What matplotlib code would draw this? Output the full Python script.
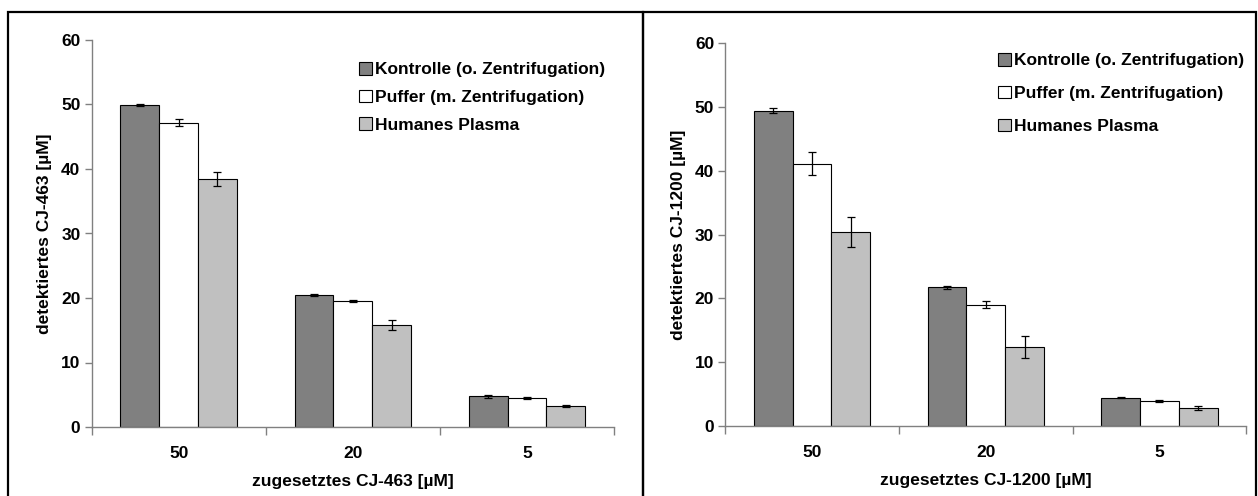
import matplotlib
matplotlib.use("Agg")
import matplotlib.pyplot as plt
from matplotlib.patches import Rectangle, Patch
import numpy as np

plt.rcParams['font.family'] = ['Liberation Sans', 'DejaVu Sans']
plt.rcParams['font.weight'] = 'bold'

# data
categories = ['50', '20', '5']
series = ['Kontrolle (o. Zentrifugation)', 'Puffer (m. Zentrifugation)', 'Humanes Plasma']
colors = ['#808080', '#ffffff', '#c0c0c0']

cj463_vals = [[49.9, 20.4, 4.75],
              [47.2, 19.5, 4.5],
              [38.5, 15.8, 3.25]]
cj463_err = [[0.1, 0.15, 0.25],
             [0.5, 0.15, 0.1],
             [1.1, 0.75, 0.2]]

cj1200_vals = [[49.4, 21.75, 4.45],
               [41.1, 19.0, 3.87],
               [30.4, 12.4, 2.8]]
cj1200_err = [[0.4, 0.2, 0.05],
              [1.8, 0.55, 0.15],
              [2.4, 1.7, 0.3]]

FS = 12.5

fig = plt.figure(figsize=(12.58, 4.96), dpi=100)

# black frames around each panel
for x0, x1 in [(8, 643), (643, 1256)]:
    fig.patches.append(Rectangle((x0 / 1258, -0.1), (x1 - x0) / 1258, 1.1 - 12 / 496,
                                 transform=fig.transFigure, fill=False,
                                 edgecolor='black', lw=1.6))


def panel(rect, vals, errs, ylabel, xlabel, leg_pos, leg_space):
    ax = fig.add_axes(rect)
    x = np.arange(len(categories))
    w = 0.223
    for i in range(len(series)):
        ax.bar(x + (i - 1) * w, vals[i], w, color=colors[i], edgecolor='black',
               lw=0.8, label=series[i], zorder=2)
        ax.errorbar(x + (i - 1) * w, vals[i], yerr=errs[i], fmt='none',
                    ecolor='black', elinewidth=0.9, capsize=2.6, capthick=0.9, zorder=3)
    ax.set_xlim(-0.5, 2.5)
    ax.set_ylim(0, 60)
    ax.set_yticks(range(0, 61, 10))
    ax.set_xticks(x)
    ax.set_xticklabels(categories)
    ax.set_xticks([-0.5, 0.5, 1.5, 2.5], minor=True)
    ax.tick_params(axis='x', which='major', length=0, pad=14, labelsize=FS)
    ax.tick_params(axis='x', which='minor', length=6, color='#808080', width=1)
    ax.tick_params(axis='y', length=5, color='#808080', width=1, pad=3, labelsize=FS)
    for s in ['top', 'right']:
        ax.spines[s].set_visible(False)
    for s in ['left', 'bottom']:
        ax.spines[s].set_color('#808080')
        ax.spines[s].set_linewidth(1)
    ax.set_ylabel(ylabel, fontsize=FS, fontweight='bold')
    ax.yaxis.set_label_coords(-0.076, 0.5)
    ax.set_xlabel(xlabel, fontsize=FS, fontweight='bold', labelpad=9)
    handles = [Patch(facecolor=c, edgecolor='black', lw=0.8) for c in colors]
    ax.legend(handles, series, loc='upper left', bbox_to_anchor=leg_pos,
              bbox_transform=fig.transFigure, frameon=False, fontsize=FS,
              handlelength=0.75, handleheight=0.75, handletextpad=0.2,
              labelspacing=leg_space, borderpad=0, borderaxespad=0)
    return ax


panel([91.6 / 1258, 69 / 496, (614 - 91.6) / 1258, 387 / 496],
      cj463_vals, cj463_err, 'detektiertes CJ-463 [µM]', 'zugesetztes CJ-463 [µM]',
      (359 / 1258, (496 - 62) / 496), 0.7)
panel([725.3 / 1258, 70 / 496, (1246.3 - 725.3) / 1258, 382.7 / 496],
      cj1200_vals, cj1200_err, 'detektiertes CJ-1200 [µM]', 'zugesetztes CJ-1200 [µM]',
      (998 / 1258, (496 - 53) / 496), 1.0)

fig.savefig('out.png', dpi=100)
